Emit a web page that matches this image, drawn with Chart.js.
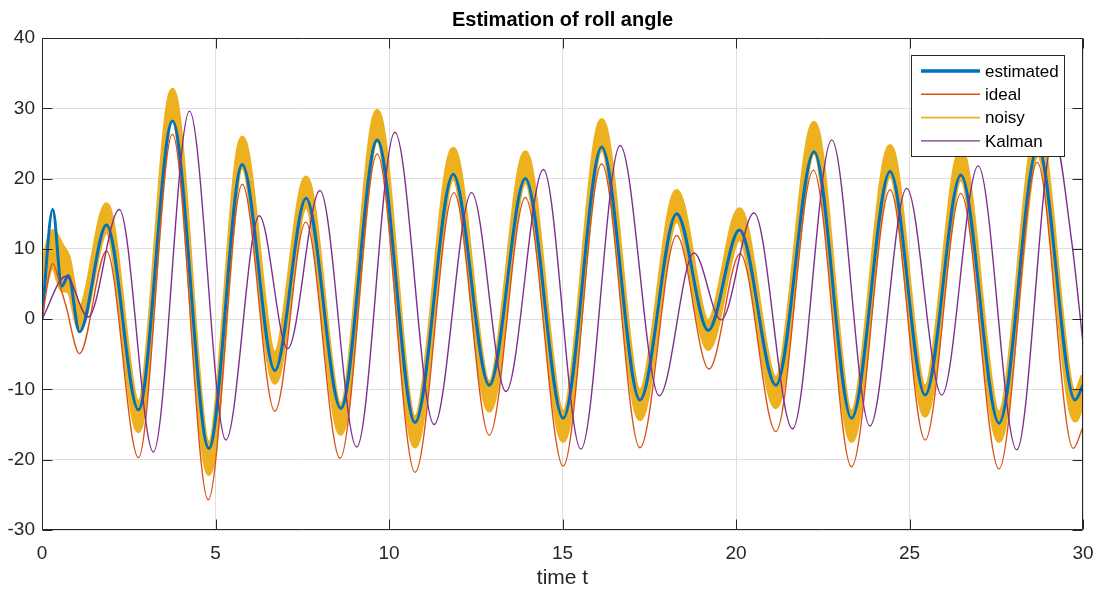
<!DOCTYPE html>
<html>
<head>
<meta charset="utf-8">
<title>Estimation of roll angle</title>
<script src="https://cdn.jsdelivr.net/npm/chart.js@4.4.1/dist/chart.umd.min.js"></script>
<style>
  html, body { margin: 0; padding: 0; background: #fff; }
  #wrap { position: relative; width: 1100px; height: 592px; }
</style>
</head>
<body>
<div id="wrap"><canvas id="rollChart"></canvas></div>
<script>
// values (turning points of each curve)
const estT = [0, 0.31, 0.57, 0.76, 1.08, 1.86, 2.78, 3.76, 4.81, 5.77, 6.71, 7.61, 8.61, 9.66, 10.75, 11.85, 12.89, 13.93, 15.02, 16.13, 17.23, 18.29, 19.20, 20.10, 21.15, 22.25, 23.33, 24.44, 25.45, 26.48, 27.58, 28.70, 29.77, 30];
const estY = [0, 15.6, 4.7, 6.2, -1.8, 13.4, -12.9, 28.2, -18.4, 22.0, -7.3, 17.2, -12.7, 25.5, -14.7, 20.6, -9.4, 20.0, -14.1, 24.5, -11.5, 15.0, -1.6, 12.7, -9.4, 23.8, -14.1, 21.0, -10.8, 20.5, -14.8, 24.5, -11.5, -9.4];

const idealT = [0, 0.31, 0.57, 0.69, 1.08, 1.86, 2.78, 3.76, 4.79, 5.77, 6.71, 7.60, 8.59, 9.66, 10.75, 11.87, 12.89, 13.93, 15.02, 16.13, 17.23, 18.29, 19.22, 20.12, 21.15, 22.23, 23.33, 24.44, 25.45, 26.48, 27.58, 28.68, 29.72, 30];
const idealY = [0, 7.9, 3.9, 1.9, -4.9, 9.7, -19.7, 26.3, -25.7, 19.2, -13.1, 13.8, -19.8, 23.5, -21.8, 18.0, -16.5, 17.3, -20.9, 22.1, -18.3, 11.9, -7.1, 9.3, -16.0, 21.2, -21.0, 18.4, -17.2, 17.9, -21.3, 22.3, -18.4, -15.3];

// the noisy signal is drawn as a band between its upper and lower edge
const noisyT = [0, 0.31, 0.57, 0.76, 1.08, 1.86, 2.78, 3.76, 4.81, 5.77, 6.71, 7.61, 8.61, 9.66, 10.75, 11.85, 12.89, 13.93, 15.02, 16.13, 17.23, 18.29, 19.20, 20.10, 21.15, 22.25, 23.33, 24.44, 25.45, 26.48, 27.58, 28.70, 29.77, 30];
const noisyHi = [7.5, 12.5, 10.5, 8.8, 1.6, 16.3, -11.8, 32.6, -17.6, 25.8, -4.8, 20.1, -12.2, 29.6, -14.0, 24.2, -9.0, 23.7, -13.2, 28.3, -10.2, 18.2, -0.3, 15.6, -8.4, 27.9, -13.2, 24.6, -9.6, 24.1, -13.3, 27.6, -10.4, -8.0];
const noisyLo = [3.0, 7.5, 4.2, 4.0, -1.4, 12.4, -15.9, 28.4, -22.0, 21.6, -9.0, 16.0, -16.3, 25.4, -18.1, 20.0, -13.0, 19.5, -17.3, 24.1, -14.2, 14.0, -4.2, 11.4, -12.5, 23.7, -17.3, 20.4, -13.7, 19.9, -17.3, 23.4, -14.4, -12.0];

const kalmanT = [0, 0.69, 1.33, 2.23, 3.21, 4.25, 5.30, 6.26, 7.08, 8.01, 9.07, 10.17, 11.30, 12.38, 13.37, 14.45, 15.53, 16.66, 17.79, 18.79, 19.57, 20.52, 21.63, 22.76, 23.86, 24.92, 25.93, 26.98, 28.09, 29.16, 29.67, 30];
const kalmanY = [0, 6.1, 0.3, 15.6, -18.9, 29.6, -17.2, 14.7, -4.2, 18.3, -18.2, 26.6, -15.0, 18.0, -10.3, 21.3, -18.5, 24.7, -10.9, 9.4, -0.1, 15.1, -15.6, 25.5, -15.2, 18.6, -10.8, 21.8, -18.6, 26.0, 11.2, -3.4];

const xTicks = [0, 5, 10, 15, 20, 25, 30];
const yTicks = [-30, -20, -10, 0, 10, 20, 30, 40];

const BLUE = '#0072BD', ORANGE = '#D95319', YELLOW = '#EDB120', PURPLE = '#7E2F8E';
const INK = '#262626';
const FONT = '"Liberation Sans", Arial, Helvetica, sans-serif';

const legendItems = [
  { text: 'estimated', color: BLUE, width: 3.5 },
  { text: 'ideal', color: ORANGE, width: 1.4 },
  { text: 'noisy', color: YELLOW, width: 1.6 },
  { text: 'Kalman', color: PURPLE, width: 1.4 }
];

const pts = (ts, ys) => ts.map((t, i) => ({ x: t, y: ys[i] }));

// box around the axes with inward ticks on all four sides
const axesBox = {
  id: 'axesBox',
  afterDatasetsDraw(chart) {
    const { ctx, chartArea: a, scales: { x, y } } = chart;
    const L = Math.round(a.left) + 0.5, R = Math.round(a.right) - 0.5;
    const T = Math.round(a.top) + 0.5, B = Math.round(a.bottom) - 0.5;
    ctx.save();
    ctx.strokeStyle = INK;
    ctx.lineWidth = 1;
    ctx.beginPath();
    ctx.rect(L, T, R - L, B - T);
    xTicks.forEach(v => {
      const px = Math.round(x.getPixelForValue(v)) + 0.5;
      ctx.moveTo(px, B); ctx.lineTo(px, B - 10);
      ctx.moveTo(px, T); ctx.lineTo(px, T + 10);
    });
    yTicks.forEach(v => {
      const py = Math.round(y.getPixelForValue(v)) + 0.5;
      ctx.moveTo(L, py); ctx.lineTo(L + 10, py);
      ctx.moveTo(R, py); ctx.lineTo(R - 10, py);
    });
    ctx.stroke();
    ctx.restore();
  }
};

const plotTitle = {
  id: 'plotTitle',
  afterDraw(chart) {
    const { ctx, chartArea: a } = chart;
    ctx.save();
    ctx.fillStyle = '#000';
    ctx.font = 'bold 20px ' + FONT;
    ctx.textAlign = 'center';
    ctx.textBaseline = 'middle';
    ctx.fillText('Estimation of roll angle', (a.left + a.right) / 2, 20);
    ctx.restore();
  }
};

const boxLegend = {
  id: 'boxLegend',
  afterDraw(chart) {
    const { ctx, chartArea: a } = chart;
    const w = 153, h = 101;
    const left = Math.round(a.right - 19 - w), top = Math.round(a.top + 17);
    ctx.save();
    ctx.fillStyle = '#fff';
    ctx.fillRect(left, top, w, h);
    ctx.strokeStyle = INK;
    ctx.lineWidth = 1;
    ctx.strokeRect(left + 0.5, top + 0.5, w, h);
    ctx.font = '17px ' + FONT;
    ctx.textBaseline = 'middle';
    legendItems.forEach((item, i) => {
      const yy = top + 16 + i * 23.3;
      ctx.strokeStyle = item.color;
      ctx.lineWidth = item.width;
      ctx.beginPath();
      ctx.moveTo(left + 10, yy);
      ctx.lineTo(left + 69, yy);
      ctx.stroke();
      ctx.fillStyle = '#000';
      ctx.fillText(item.text, left + 74, yy + 1);
    });
    ctx.restore();
  }
};

const ctx = document.getElementById('rollChart').getContext('2d');

new Chart(ctx, {
  type: 'line',
  data: {
    datasets: [
      { label: 'Kalman', data: pts(kalmanT, kalmanY), borderColor: PURPLE, borderWidth: 1.4 },
      { label: 'ideal', data: pts(idealT, idealY), borderColor: ORANGE, borderWidth: 1.4 },
      { label: 'estimated', data: pts(estT, estY), borderColor: BLUE, borderWidth: 3 },
      { label: 'noisy', data: pts(noisyT, noisyHi), borderColor: YELLOW, backgroundColor: YELLOW, borderWidth: 4.5, fill: '+1' },
      { label: 'noisy low', data: pts(noisyT, noisyLo), borderColor: YELLOW, borderWidth: 4.5 }
    ]
  },
  options: {
    responsive: true,
    maintainAspectRatio: false,
    animation: false,
    events: [],
    layout: { padding: { top: 38, right: 17, left: 0, bottom: 0 } },
    elements: {
      point: { radius: 0 },
      line: { cubicInterpolationMode: 'monotone', fill: false }
    },
    plugins: {
      legend: { display: false },
      tooltip: { enabled: false }
    },
    scales: {
      x: {
        type: 'linear',
        min: 0,
        max: 30,
        afterBuildTicks: s => { s.ticks = xTicks.map(v => ({ value: v })); },
        afterFit: s => { s.height = 62; s.paddingLeft = 0; s.paddingRight = 0; },
        ticks: { color: INK, font: { family: FONT, size: 19 }, padding: 12, maxRotation: 0 },
        grid: { color: '#dfdfdf', drawTicks: false },
        border: { display: false },
        title: { display: true, text: 'time t', color: INK, font: { family: FONT, size: 21 }, padding: { top: 0, bottom: 1 } }
      },
      y: {
        min: -30,
        max: 40,
        afterBuildTicks: s => { s.ticks = yTicks.map(v => ({ value: v })); },
        afterFit: s => { s.width = 42; s.paddingTop = 0; s.paddingBottom = 0; },
        ticks: { color: INK, font: { family: FONT, size: 19 }, padding: 7 },
        grid: { color: '#dfdfdf', drawTicks: false },
        border: { display: false }
      }
    }
  },
  plugins: [axesBox, plotTitle, boxLegend]
});
</script>
</body>
</html>
